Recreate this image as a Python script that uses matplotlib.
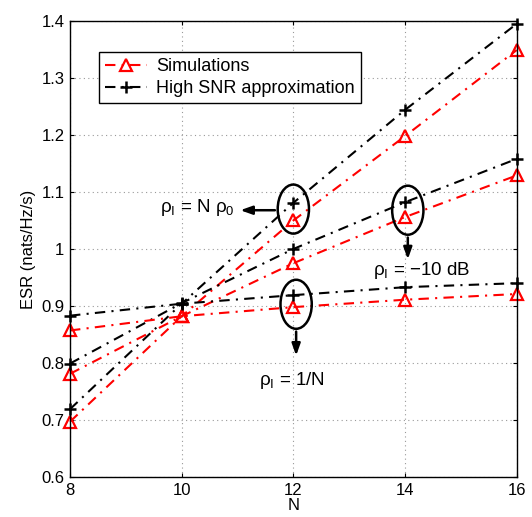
import matplotlib
matplotlib.use("Agg")
import matplotlib.pyplot as plt
from matplotlib.patches import Ellipse

plt.rcParams['font.family'] = ['Liberation Sans', 'DejaVu Sans']
plt.rcParams['mathtext.fontset'] = 'custom'
plt.rcParams['mathtext.rm'] = 'Liberation Sans'
plt.rcParams['mathtext.it'] = 'Liberation Sans'

N = [8, 10, 12, 14, 16]
sim_N = [0.697, 0.882, 1.050, 1.198, 1.349]
app_N = [0.719, 0.904, 1.081, 1.244, 1.395]
sim_10 = [0.781, 0.882, 0.975, 1.056, 1.129]
app_10 = [0.799, 0.905, 1.000, 1.082, 1.158]
sim_1N = [0.857, 0.882, 0.898, 0.911, 0.921]
app_1N = [0.883, 0.904, 0.919, 0.933, 0.940]

xticks = [8, 10, 12, 14, 16]
yticks = [0.6, 0.7, 0.8, 0.9, 1.0, 1.1, 1.2, 1.3, 1.4]
ytlabels = ['0.6', '0.7', '0.8', '0.9', '1', '1.1', '1.2', '1.3', '1.4']

fig = plt.figure(figsize=(5.32, 5.17), dpi=100)
ax = fig.add_axes([0.1316, 0.0774, 0.8396, 0.882])

red_kw = dict(color='red', linestyle='-.', linewidth=1.5, marker='^', markersize=9,
              markerfacecolor='none', markeredgecolor='red', markeredgewidth=1.6,
              dashes=(5, 3, 1, 3), clip_on=False)
blk_kw = dict(color='black', linestyle='-.', linewidth=1.5, marker='+', markersize=9,
              markeredgewidth=1.8, dashes=(5, 3, 1, 3), clip_on=False)

ax.plot(N, sim_N, label='Simulations', **red_kw)
ax.plot(N, app_N, label='High SNR approximation', **blk_kw)
ax.plot(N, sim_10, **red_kw)
ax.plot(N, app_10, **blk_kw)
ax.plot(N, sim_1N, **red_kw)
ax.plot(N, app_1N, **blk_kw)

ax.set_xlim(8, 16)
ax.set_ylim(0.6, 1.4)
ax.set_xticks(xticks)
ax.set_yticks(yticks)
ax.set_yticklabels(ytlabels)
ax.tick_params(direction='in', top=True, right=True, labelsize=12, length=3, pad=4)
ax.grid(True, linestyle=(0, (1, 3)), color='#999999', linewidth=0.8)
for s in ax.spines.values():
    s.set_linewidth(1.0)
ax.set_xlabel('N', fontsize=12, labelpad=0)
ax.set_ylabel('ESR (nats/Hz/s)', fontsize=12, labelpad=4)

leg = ax.legend(loc='upper left', bbox_to_anchor=(0.065, 0.932), fontsize=13, fancybox=False,
                edgecolor='black', framealpha=1, handlelength=2.3, borderpad=0.35,
                labelspacing=0.25, handletextpad=0.5, borderaxespad=0)
leg.get_frame().set_linewidth(1.0)

# ellipses
for (cx, cy) in [(12.0, 1.07), (14.05, 1.068), (12.05, 0.903)]:
    ax.add_patch(Ellipse((cx, cy), 0.56, 0.086, fill=False, edgecolor='black', linewidth=1.8, zorder=5))

arr = dict(arrowstyle='-|>,head_length=0.7,head_width=0.25', color='black', lw=1.8)
ax.annotate('', xy=(11.0, 1.068), xytext=(11.72, 1.068), arrowprops=arr)
ax.annotate('', xy=(14.05, 0.977), xytext=(14.05, 1.025), arrowprops=arr)
ax.annotate('', xy=(12.05, 0.808), xytext=(12.05, 0.86), arrowprops=arr)

ax.text(10.95, 1.072, r'$\mathregular{\rho_I}$ = N $\mathregular{\rho_0}$', ha='right', va='center', fontsize=13.5)
ax.text(14.29, 0.962, r'$\mathregular{\rho_I}$ = $-$10 dB', ha='center', va='center', fontsize=13.5)
ax.text(11.98, 0.77, r'$\mathregular{\rho_I}$ = 1/N', ha='center', va='center', fontsize=13.5)

fig.savefig('out.png', dpi=100)
